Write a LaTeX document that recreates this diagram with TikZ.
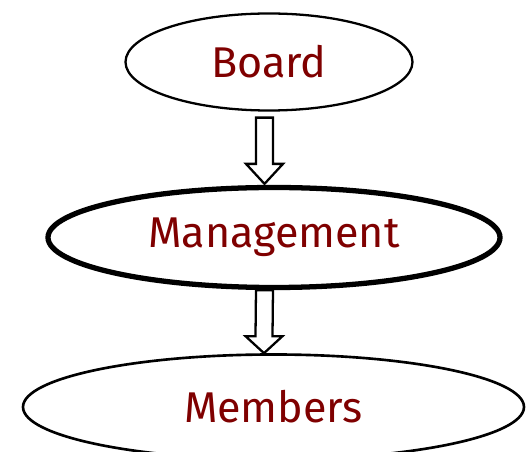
\documentclass[tikz,border=0pt]{standalone}
\usepackage{fontspec}
\setmainfont{Fira Sans}
\usepackage{xcolor,tikz}
\usetikzlibrary{calc,positioning,shapes.geometric}
\definecolor{darkred}{RGB}{127,0,0}
\tikzset{
  level/.style={ellipse, draw, line width=1.3pt, inner sep=0pt,
    font=\fontsize{24.5}{28}\selectfont, text=darkred},
  blockarrow/.style={draw, line width=1.3pt, fill=white, line join=miter}
}
% block arrow pointing down: #1 top, #2 tip, #3 head length
\newcommand{\downblock}[3]{%
  \draw[blockarrow] ($(#1)+(-0.17,0)$) -- ($(#2)+(-0.17,#3)$) -- ($(#2)+(-0.37,#3)$)
    -- (#2) -- ($(#2)+(0.37,#3)$) -- ($(#2)+(0.17,#3)$) -- ($(#1)+(0.17,0)$) -- cycle;}

\begin{document}
\begin{tikzpicture}
        \useasboundingbox (0,0) rectangle (10.58,-9.04);
        \node[level, minimum width=5.74cm, minimum height=1.94cm] (board) at (5.38,-1.24) {Board};
        \node[level, line width=3pt, minimum width=9.04cm, minimum height=2.0cm] (management) at (5.48,-4.75) {Management};
        \node[level, line width=1.5pt, minimum width=10.02cm, minimum height=2.1cm] (members) at (5.47,-8.14) {Members};
        %%%%
        \coordinate (a1top) at ($(board.south)+(-0.09,-0.12)$);
        \coordinate (a1tip) at ($(management.north)+(-0.19,0.02)$);
        \coordinate (a2top) at ($(management.south)+(-0.19,0)$);
        \coordinate (a2tip) at ($(members.north)+(-0.19,0)$);
        \downblock{a1top}{a1tip}{0.4}
        \downblock{a2top}{a2tip}{0.34}
    \end{tikzpicture}
\end{document}
